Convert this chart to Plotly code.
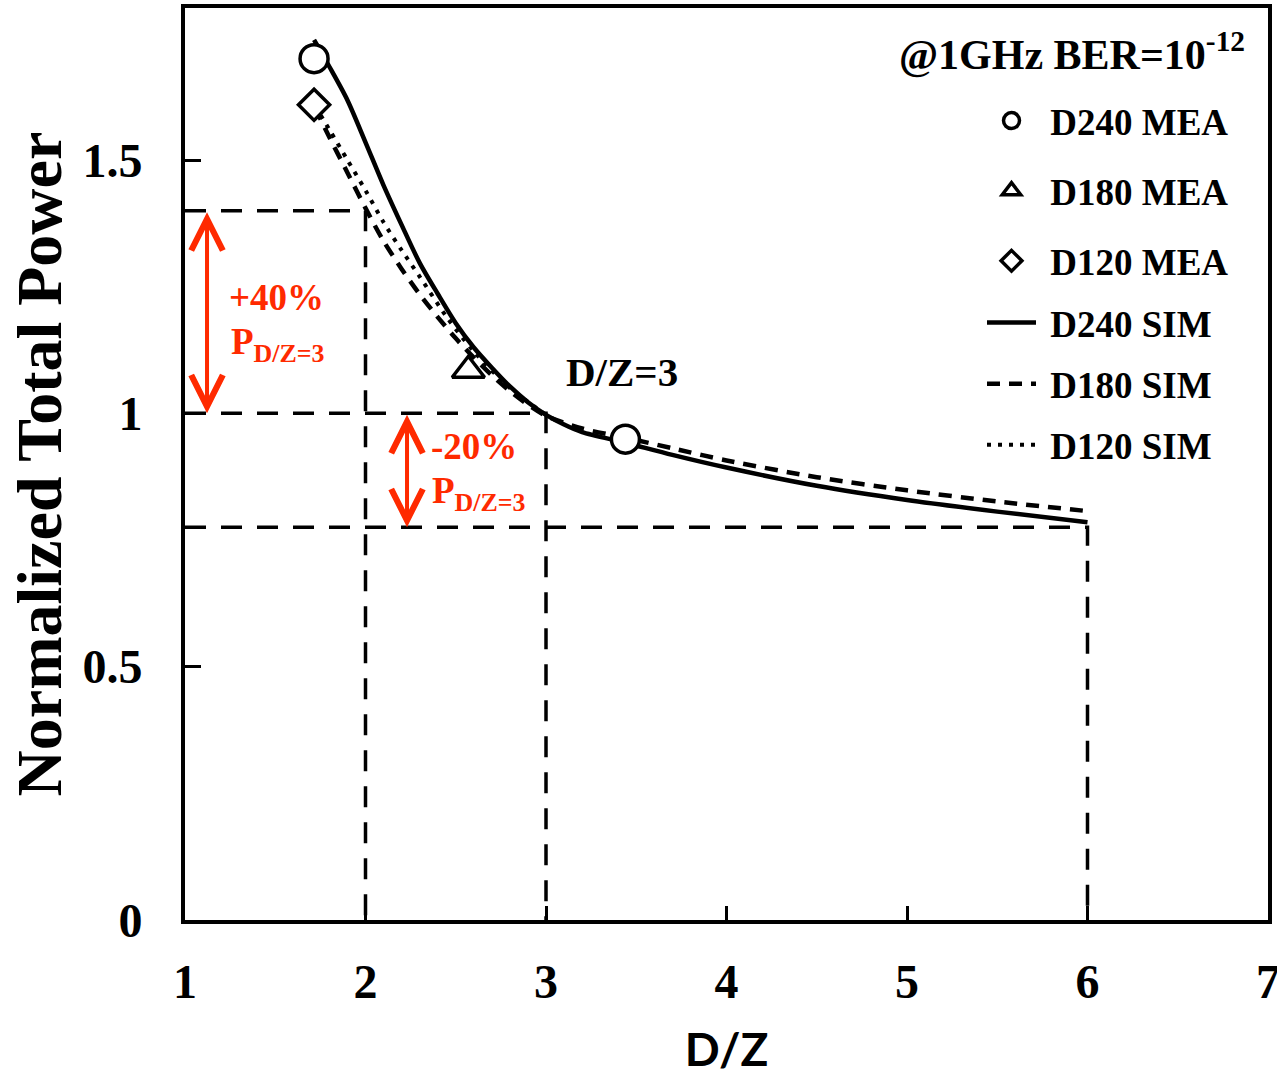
import plotly.graph_objects as go

# ---------------- data ----------------
d240_mea_x = [1.715, 3.44]
d240_mea_y = [1.70, 0.949]
d180_mea_x = [2.57]
d180_mea_y = [1.085]
d120_mea_x = [1.715]
d120_mea_y = [1.609]

d240_sim_x = [1.715, 1.8, 1.9, 2.0, 2.1, 2.2, 2.3, 2.4, 2.5, 2.6, 2.7, 2.8, 2.9, 3.0,
              3.1, 3.2, 3.44, 3.7, 4.0, 4.5, 5.0, 5.5, 6.0]
d240_sim_y = [1.737, 1.684, 1.618, 1.535, 1.450, 1.372, 1.297, 1.236, 1.178, 1.130, 1.090,
              1.053, 1.022, 0.997, 0.978, 0.963, 0.942, 0.918, 0.893, 0.857, 0.829, 0.806, 0.785]

d180_sim_x = [1.72, 1.8, 1.9, 2.0, 2.1, 2.2, 2.3, 2.4, 2.5, 2.6, 2.7, 2.8, 2.9, 3.0,
              3.2, 3.44, 3.7, 4.0, 4.5, 5.0, 5.5, 6.0]
d180_sim_y = [1.603, 1.545, 1.475, 1.405, 1.34, 1.285, 1.235, 1.19, 1.148, 1.11, 1.075,
              1.044, 1.017, 0.995, 0.97, 0.952, 0.931, 0.907, 0.874, 0.848, 0.826, 0.807]

d120_sim_x = [1.72, 1.8, 1.9, 2.0, 2.1, 2.2, 2.3, 2.45, 2.6, 2.8, 3.0]
d120_sim_y = [1.607, 1.56, 1.50, 1.44, 1.377, 1.322, 1.27, 1.19, 1.122, 1.05, 0.997]

# reference guide lines (D/Z value, normalized power level)
ref_dz = [2, 3, 6]
ref_power = [1.40, 1.00, 0.775]

x_ticks = [1, 2, 3, 4, 5, 6, 7]
y_ticks = [0, 0.5, 1, 1.5]
y_tick_labels = ["0", "0.5", "1", "1.5"]

legend_names = ["D240 MEA", "D180 MEA", "D120 MEA", "D240 SIM", "D180 SIM", "D120 SIM"]

# ---------------- styling ----------------
SERIF = "Liberation Serif"
RED = "#FF2A00"
W, H = 1277, 1076
L, R, T, B = 185, 9, 8, 156
NB = "\u00a0"  # small gap between legend key and its label


def px2x(px):
    return (px - L) / (W - L - R)


def py2y(py):
    return (H - B - py) / (H - B - T)


fig = go.Figure()

# guide lines
for dz, pw in zip(ref_dz, ref_power):
    fig.add_trace(go.Scatter(
        x=[x_ticks[0], dz, dz], y=[pw, pw, y_ticks[0]], mode="lines",
        line=dict(color="black", width=3.5, dash="21px,15px"),
        showlegend=False, hoverinfo="skip"))

# simulation curves
fig.add_trace(go.Scatter(x=d240_sim_x, y=d240_sim_y, mode="lines", name=NB + legend_names[3],
                         line=dict(color="black", width=4.5, shape="spline", smoothing=0.8),
                         legend="legend2", legendgroup="g4", legendrank=4))
fig.add_trace(go.Scatter(x=d180_sim_x, y=d180_sim_y, mode="lines", name=NB + legend_names[4],
                         line=dict(color="black", width=4.5, dash="13px,9px",
                                   shape="spline", smoothing=0.8),
                         legend="legend2", legendgroup="g5", legendrank=5))
fig.add_trace(go.Scatter(x=d120_sim_x, y=d120_sim_y, mode="lines", name=NB + legend_names[5],
                         line=dict(color="black", width=4, dash="4px,7px",
                                   shape="spline", smoothing=0.8),
                         legend="legend2", legendgroup="g6", legendrank=6))

# measured points
mk_line = dict(color="black", width=3.5)
fig.add_trace(go.Scatter(x=d240_mea_x, y=d240_mea_y, mode="markers", name=NB + legend_names[0],
                         marker=dict(symbol="circle", size=28, color="white", line=mk_line),
                         legendgroup="g1", legendrank=1))
fig.add_trace(go.Scatter(x=d180_mea_x, y=d180_mea_y, mode="markers", name=NB + legend_names[1],
                         marker=dict(symbol="triangle-up", size=28, color="white", line=mk_line),
                         legendgroup="g2", legendrank=2))
fig.add_trace(go.Scatter(x=d120_mea_x, y=d120_mea_y, mode="markers", name=NB + legend_names[2],
                         marker=dict(symbol="diamond", size=24, color="white", line=mk_line),
                         legendgroup="g3", legendrank=3))

ann = []
ann.append(dict(text="@1GHz BER=10<sup>-12</sup>", xref="paper", yref="paper",
                x=px2x(1247), y=py2y(51), xanchor="right", yanchor="middle", showarrow=False,
                font=dict(family=SERIF, size=42, color="black", weight="bold")))
ann.append(dict(text="D/Z=3", xref="paper", yref="paper",
                x=px2x(622), y=py2y(372), xanchor="center", yanchor="middle", showarrow=False,
                font=dict(family=SERIF, size=41, color="black", weight="bold")))
red_font = dict(family=SERIF, size=37, color=RED, weight="bold")
ann.append(dict(text="+40%", xref="paper", yref="paper", x=px2x(227), y=py2y(297),
                xanchor="left", yanchor="middle", showarrow=False, font=red_font))
ann.append(dict(text="P<sub>D/Z=3</sub>", xref="paper", yref="paper", x=px2x(229), y=py2y(345),
                xanchor="left", yanchor="middle", showarrow=False, font=red_font))
ann.append(dict(text="-20%", xref="paper", yref="paper", x=px2x(429), y=py2y(446),
                xanchor="left", yanchor="middle", showarrow=False, font=red_font))
ann.append(dict(text="P<sub>D/Z=3</sub>", xref="paper", yref="paper", x=px2x(430), y=py2y(493),
                xanchor="left", yanchor="middle", showarrow=False, font=red_font))

# double-headed red arrows between guide levels
for ax_x, top, bot in [(1.122, ref_power[0], ref_power[1]), (2.23, ref_power[1], ref_power[2])]:
    ann.append(dict(text="", x=ax_x, y=bot, xref="x", yref="y", ax=ax_x, ay=top,
                    axref="x", ayref="y", showarrow=True, arrowside="end+start",
                    arrowhead=5, startarrowhead=5, arrowsize=1.55, startarrowsize=1.55,
                    arrowwidth=4, arrowcolor=RED, standoff=0, startstandoff=0))

tick_font = dict(family=SERIF, size=48, color="black", weight="bold")
leg_font = dict(family=SERIF, size=37, color="black", weight="bold")

fig.update_layout(
    width=W, height=H,
    margin=dict(l=L, r=R, t=T, b=B, autoexpand=False),
    paper_bgcolor="white", plot_bgcolor="white",
    annotations=ann,
    legend=dict(x=px2x(982), xanchor="left", y=py2y(90), yanchor="top",
                font=leg_font, bgcolor="rgba(0,0,0,0)", tracegroupgap=19,
                traceorder="grouped", itemwidth=49),
    legend2=dict(x=px2x(982), xanchor="left", y=py2y(292), yanchor="top",
                 font=leg_font, bgcolor="rgba(0,0,0,0)", tracegroupgap=10,
                 traceorder="grouped", itemwidth=49),
    xaxis=dict(range=[1, 7], tickvals=x_ticks, ticktext=[str(v) for v in x_ticks],
               showgrid=False, zeroline=False, showline=True, linecolor="black", linewidth=4,
               mirror=True, ticks="inside", ticklen=14, tickwidth=3, tickcolor="black",
               tickfont=tick_font, ticklabelstandoff=16, ticklabeloverflow="allow",
               title=dict(text="D/Z", standoff=46,
                          font=dict(family="Lato", size=46, color="black", weight="bold"))),
    yaxis=dict(range=[0, 1.8], tickvals=y_ticks, ticktext=y_tick_labels,
               showgrid=False, zeroline=False, showline=True, linecolor="black", linewidth=4,
               mirror=True, ticks="inside", ticklen=16, tickwidth=3, tickcolor="black",
               tickfont=tick_font, ticklabelstandoff=29, ticklabeloverflow="allow",
               title=dict(text="Normalized Total Power", standoff=1,
                          font=dict(family=SERIF, size=64, color="black", weight="bold"))),
)

fig.write_html("out.html", config={"displayModeBar": False},
               post_script="document.body.style.margin='0';")
